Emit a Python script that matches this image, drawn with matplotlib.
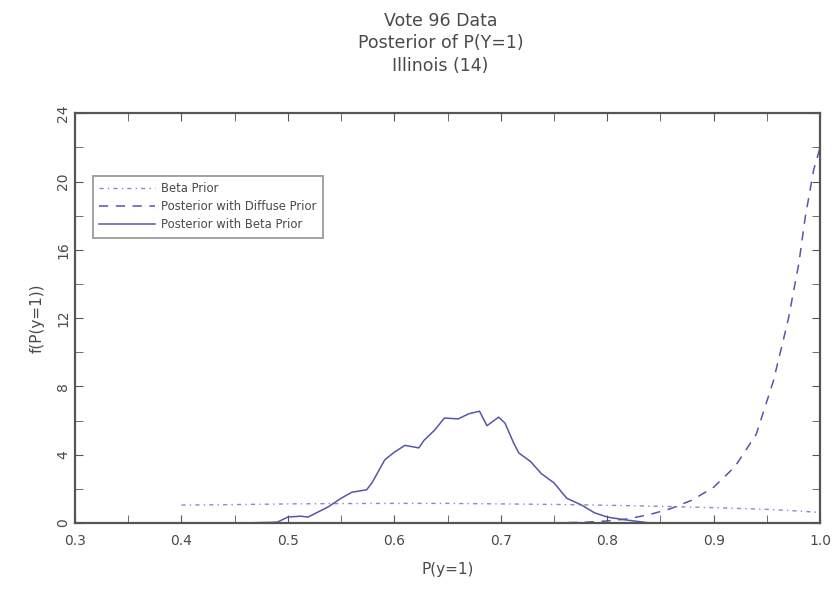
import matplotlib
matplotlib.use("Agg")
import matplotlib.pyplot as plt
from matplotlib.ticker import MultipleLocator

# Beta prior (dash-dot)
prior_x = [0.40, 0.45, 0.50, 0.55, 0.60, 0.65, 0.70, 0.75, 0.80, 0.85, 0.90, 0.95, 0.98, 1.00]
prior_y = [1.05, 1.08, 1.12, 1.14, 1.15, 1.15, 1.12, 1.09, 1.04, 0.98, 0.90, 0.80, 0.70, 0.62]

# Posterior with diffuse prior (dashed)
diff_x = [0.40, 0.60, 0.72, 0.76, 0.78, 0.80, 0.82, 0.84, 0.86, 0.88, 0.90, 0.92, 0.94, 0.956, 0.97, 0.98, 0.986, 0.994, 1.00]
diff_y = [0.0, 0.0, 0.0, 0.02, 0.05, 0.12, 0.25, 0.50, 0.85, 1.35, 2.10, 3.30, 5.20, 8.30, 11.9, 15.2, 17.9, 20.7, 22.0]

# Posterior with beta prior (solid)
post_x = [0.45, 0.47, 0.49, 0.50, 0.512, 0.519, 0.538, 0.55, 0.56, 0.574, 0.579, 0.591, 0.60,
          0.61, 0.623, 0.628, 0.638, 0.647, 0.66, 0.67, 0.68, 0.687, 0.698, 0.704, 0.712, 0.717,
          0.728, 0.738, 0.75, 0.762, 0.776, 0.788, 0.80, 0.815, 0.838, 0.85]
post_y = [0.0, 0.02, 0.05, 0.35, 0.40, 0.35, 0.95, 1.45, 1.80, 1.95, 2.35, 3.70, 4.15,
          4.55, 4.40, 4.85, 5.45, 6.15, 6.10, 6.40, 6.55, 5.70, 6.20, 5.85, 4.70, 4.10,
          3.60, 2.90, 2.35, 1.45, 1.05, 0.60, 0.35, 0.20, 0.02, 0.0]

line_col = "#5656a8"
prior_col = "#8a8ac8"
text_col = "#4a4a4a"

fig = plt.figure(figsize=(8.36, 5.93), dpi=100)
ax = fig.add_axes([0.0897, 0.118, 0.8913, 0.691])

ax.plot(prior_x, prior_y, color=prior_col, lw=1.0, linestyle=(0, (3, 3, 1, 3)), label="Beta Prior")
ax.plot(diff_x, diff_y, color=line_col, lw=1.1, linestyle=(0, (6, 5)), label="Posterior with Diffuse Prior")
ax.plot(post_x, post_y, color=line_col, lw=1.1, linestyle="-", label="Posterior with Beta Prior")

ax.set_xlim(0.3, 1.0)
ax.set_ylim(0, 24)
ax.xaxis.set_minor_locator(MultipleLocator(0.05))
ax.yaxis.set_minor_locator(MultipleLocator(2))
ax.set_xticks([0.3, 0.4, 0.5, 0.6, 0.7, 0.8, 0.9, 1.0])
ax.set_xticklabels(["0.3", "0.4", "0.5", "0.6", "0.7", "0.8", "0.9", "1.0"])
ax.set_yticks([0, 4, 8, 12, 16, 20, 24])
ax.set_yticklabels(["0", "4", "8", "12", "16", "20", "24"], rotation=90, va="center")

ax.tick_params(which="both", direction="in", top=True, right=True, colors="#555555",
               labelcolor=text_col, labelsize=10)
ax.tick_params(which="both", length=6)
ax.tick_params(axis="x", pad=8)
for s in ax.spines.values():
    s.set_color("#555555")
    s.set_linewidth(1.6)

ax.set_xlabel("P(y=1)", color=text_col, fontsize=11, labelpad=10)
ax.set_ylabel("f(P(y=1))", color=text_col, fontsize=11, labelpad=8)

fig.text(0.527, 0.965, "Vote 96 Data", ha="center", va="center", color=text_col, fontsize=12.5)
fig.text(0.527, 0.927, "Posterior of P(Y=1)", ha="center", va="center", color=text_col, fontsize=12.5)
fig.text(0.527, 0.889, "Illinois (14)", ha="center", va="center", color=text_col, fontsize=12.5)

leg = ax.legend(loc="upper left", bbox_to_anchor=(0.024, 0.848), fontsize=8.4,
                frameon=True, fancybox=False, edgecolor="#777777", handlelength=4.8,
                handletextpad=0.5, borderpad=0.55, borderaxespad=0.0,
                labelspacing=0.45, labelcolor=text_col)
leg.get_frame().set_linewidth(1.2)

fig.savefig("out.png", dpi=100)
